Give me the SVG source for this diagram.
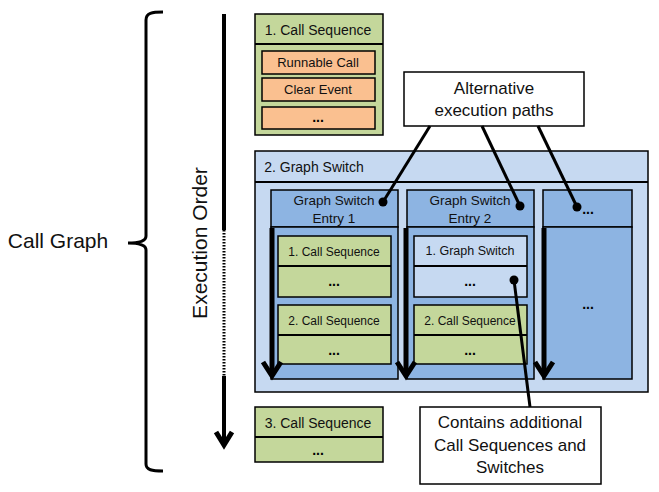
<svg xmlns="http://www.w3.org/2000/svg" width="659" height="492" viewBox="0 0 659 492">
<style>
text{font-family:"Liberation Sans",Arial,sans-serif;fill:#111;text-anchor:middle}
.g{fill:#C4D79B;stroke:#000;stroke-width:1.5}
.o{fill:#FAC090;stroke:#000;stroke-width:1.5}
.lb{fill:#C6D9F1;stroke:#000;stroke-width:1.5}
.b{fill:#8DB4E2;stroke:#000;stroke-width:1.5}
.w{fill:#fff;stroke:#000;stroke-width:1.5}
.div{stroke:#000;stroke-width:2;fill:none}
.thick{stroke:#000;stroke-width:5;fill:none}
.head{stroke:#000;stroke-width:5;fill:none;stroke-linejoin:miter}
.cl{stroke:#000;stroke-width:3;fill:none}
.f14{font-size:14px}.f13{font-size:13px}.f12{font-size:12px}.f17{font-size:17px}
.dots{font-size:14px;font-weight:bold;fill:#000}
</style>
<rect width="659" height="492" fill="#fff"/>

<g id="call-graph-label">
<text x="58" y="248" style="font-size:21px">Call Graph</text>
<path d="M163,12 C152,12 146,13 146,20 L146,236 C146,241 140,243 128,243 C140,243 146,245 146,250 L146,464 C146,470 152,471 163,471" fill="none" stroke="#000" stroke-width="3"/>
</g>

<g id="execution-order">
<text transform="translate(207,243) rotate(-90)" style="font-size:21px">Execution Order</text>
<line x1="224" y1="14" x2="224" y2="230" stroke="#000" stroke-width="4"/>
<line x1="224" y1="230" x2="224" y2="376" stroke="#000" stroke-width="3" stroke-dasharray="1.5 1.5"/>
<line x1="224" y1="376" x2="224" y2="445" stroke="#000" stroke-width="4"/>
<polyline points="216,432 224,445 232,432" class="head" stroke-width="4"/>
</g>

<g id="call-sequence-1">
<rect x="255" y="14" width="128" height="121" class="g"/>
<line x1="255" y1="44" x2="383" y2="44" class="div"/>
<text x="318" y="35" class="f14">1. Call Sequence</text>
<rect x="262" y="51" width="113" height="23" class="o"/>
<text x="318" y="67" class="f13">Runnable Call</text>
<rect x="262" y="78" width="113" height="23" class="o"/>
<text x="318" y="94" class="f13">Clear Event</text>
<rect x="262" y="107" width="113" height="22" class="o"/>
<text x="318" y="122" class="dots">...</text>
</g>

<g id="graph-switch-2">
<rect x="255" y="151" width="393" height="241" class="lb"/>
<line x1="255" y1="182" x2="648" y2="182" class="div"/>
<text x="314" y="172" class="f14">2. Graph Switch</text>
</g>

<g id="entry-1">
<rect x="271" y="190" width="127" height="37" class="b"/>
<rect x="271" y="227" width="127" height="152" class="b"/>
<text x="334" y="205" style="font-size:13.5px">Graph Switch</text>
<text x="334" y="223" style="font-size:13.5px">Entry 1</text>
<rect x="278" y="236" width="113" height="61" class="g"/>
<line x1="278" y1="266" x2="391" y2="266" class="div"/>
<text x="334" y="256" class="f12">1. Call Sequence</text>
<text x="334" y="286" class="dots">...</text>
<rect x="278" y="305" width="113" height="59" class="g"/>
<line x1="278" y1="335" x2="391" y2="335" class="div"/>
<text x="334" y="325" class="f12">2. Call Sequence</text>
<text x="334" y="355" class="dots">...</text>
</g>

<g id="entry-2">
<rect x="407" y="190" width="127" height="37" class="b"/>
<rect x="407" y="227" width="127" height="152" class="b"/>
<text x="470" y="205" style="font-size:13.5px">Graph Switch</text>
<text x="470" y="223" style="font-size:13.5px">Entry 2</text>
<rect x="414" y="236" width="113" height="61" class="lb"/>
<line x1="414" y1="266" x2="527" y2="266" class="div"/>
<text x="470" y="255" style="font-size:12.5px">1. Graph Switch</text>
<text x="470" y="286" class="dots">...</text>
<rect x="414" y="305" width="113" height="59" class="g"/>
<line x1="414" y1="335" x2="527" y2="335" class="div"/>
<text x="470" y="325" class="f12">2. Call Sequence</text>
<text x="470" y="355" class="dots">...</text>
</g>

<g id="entry-3">
<rect x="543" y="190" width="89" height="37" class="b"/>
<rect x="543" y="227" width="89" height="152" class="b"/>
<text x="588" y="214" class="dots">...</text>
<text x="588" y="309" class="dots">...</text>
</g>

<g id="call-sequence-3">
<rect x="255" y="407" width="128" height="55" class="g"/>
<line x1="255" y1="437" x2="383" y2="437" class="div"/>
<text x="318" y="428" class="f14">3. Call Sequence</text>
<text x="318" y="455" class="dots">...</text>
</g>

<g id="callout-alternative">
<rect x="404" y="72" width="180" height="54" class="w"/>
<text x="494" y="94" class="f17">Alternative</text>
<text x="494" y="116" class="f17">execution paths</text>
</g>

<g id="callout-contains">
<rect x="420" y="407" width="181" height="77" class="w"/>
<text x="510" y="428" class="f17">Contains additional</text>
<text x="510" y="451" class="f17">Call Sequences and</text>
<text x="510" y="473" class="f17">Switches</text>
</g>

<g id="connectors">
<line x1="272" y1="228" x2="272" y2="376" class="thick"/>
<polyline points="263,362 272,376 281,362" class="head"/>
<line x1="406" y1="228" x2="406" y2="376" class="thick"/>
<polyline points="397,362 406,376 415,362" class="head"/>
<line x1="544" y1="228" x2="544" y2="376" class="thick"/>
<polyline points="535,362 544,376 553,362" class="head"/>

<line x1="430" y1="126" x2="383" y2="202" class="cl"/>
<circle cx="383" cy="202" r="4.5" fill="#000"/>
<line x1="482" y1="126" x2="520" y2="206" class="cl"/>
<circle cx="520" cy="206" r="4.5" fill="#000"/>
<line x1="538" y1="126" x2="577" y2="207" class="cl"/>
<circle cx="577" cy="207" r="4.5" fill="#000"/>
<line x1="514" y1="280" x2="530" y2="407" class="cl"/>
<circle cx="514" cy="280" r="4.5" fill="#000"/>
</g>
</svg>
